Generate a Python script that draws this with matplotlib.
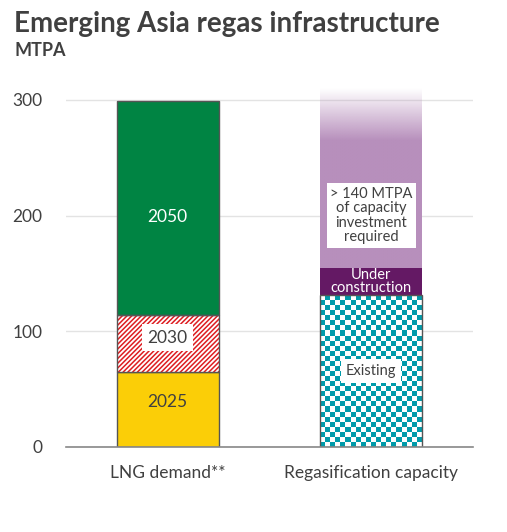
import numpy as np
import matplotlib
matplotlib.use("Agg")
import matplotlib.pyplot as plt
from matplotlib.colors import ListedColormap, to_rgb

# data (MTPA)
categories = ["LNG demand**", "Regasification capacity"]
demand_labels = ["2025", "2030", "2050"]
demand_values = [65, 49, 185]          # stacked increments -> 65, 114, 299
capacity_labels = ["Existing", "Under\nconstruction",
                   "> 140 MTPA\nof capacity\ninvestment\nrequired"]
capacity_values = [131, 24, 155]       # stacked increments -> 131, 155, 310
y_ticks = [0, 100, 200, 300]

# style
TXT = "#404040"
GREEN = "#008443"
YELLOW = "#FBCE07"
RED = "#DD1D21"
TEAL = "#009BAA"
DPURPLE = "#641964"
LPURPLE = "#B78FBC"
EDGE = "#555555"

plt.rcParams["font.family"] = ["Lato", "DejaVu Sans"]
plt.rcParams["hatch.linewidth"] = 1.1

fig = plt.figure(figsize=(5.07, 5.32), dpi=100)
ax = fig.add_axes([0.130, 0.160, 0.803, 0.685])
ax.set_xlim(-0.5, 1.5)
ax.set_ylim(0, 315)

x_dem, x_cap = 0, 1
w = 0.5

# LNG demand stack
bottoms = np.cumsum([0] + demand_values[:-1])
b25 = ax.bar(x_dem, demand_values[0], w, bottom=bottoms[0], color=YELLOW,
             edgecolor=EDGE, linewidth=1, zorder=3)
# hatch drawn in red, then a grey outline on top
ax.bar(x_dem, demand_values[1], w, bottom=bottoms[1], facecolor="white",
       edgecolor=RED, hatch="///////", linewidth=0, zorder=3)
ax.bar(x_dem, demand_values[1], w, bottom=bottoms[1], facecolor="none",
       edgecolor=EDGE, linewidth=1, zorder=4)
b50 = ax.bar(x_dem, demand_values[2], w, bottom=bottoms[2], color=GREEN,
             edgecolor=EDGE, linewidth=1, zorder=3)

ax.text(x_dem, bottoms[0] + demand_values[0] * 0.6, demand_labels[0],
        ha="center", va="center", fontsize=12.5, color=TXT, zorder=5)
ax.text(x_dem, bottoms[1] + demand_values[1] * 0.6, demand_labels[1],
        ha="center", va="center", fontsize=12.5, color=TXT, zorder=5,
        bbox=dict(facecolor="white", edgecolor="none", pad=4))
ax.text(x_dem, bottoms[2] + demand_values[2] * 0.46, demand_labels[2],
        ha="center", va="center", fontsize=12.5, color="white", zorder=5)

# Regasification capacity stack
cb = np.cumsum([0] + capacity_values[:-1])
ex = ax.bar(x_cap, capacity_values[0], w, bottom=cb[0], facecolor="none",
            edgecolor=EDGE, linewidth=1, zorder=4)
uc = ax.bar(x_cap, capacity_values[1], w, bottom=cb[1], color=DPURPLE,
            edgecolor="none", zorder=3)
rq = ax.bar(x_cap, capacity_values[2], w, bottom=cb[2], facecolor="none",
            edgecolor="none", zorder=3)

# checkerboard fill for existing
p = ex[0]
x0, y0 = p.get_x(), p.get_y()
x1, y1 = x0 + p.get_width(), y0 + p.get_height()
ncol, nrow = 20, 30
checker = (np.add.outer(np.arange(nrow), np.arange(ncol)) % 2)
ax.imshow(checker, cmap=ListedColormap(["white", TEAL]), extent=(x0, x1, y0, y1),
          aspect="auto", interpolation="nearest", zorder=3,
          clip_path=p, clip_on=True)

# fading purple for required investment
p = rq[0]
x0, y0 = p.get_x(), p.get_y()
x1, y1 = x0 + p.get_width(), y0 + p.get_height()
n = 300
yy = np.linspace(y0, y1, n)
fade_start = 265
alpha = np.clip((y1 - yy) / (y1 - fade_start), 0, 1)
rgba = np.zeros((n, 2, 4))
rgba[..., :3] = to_rgb(LPURPLE)
rgba[..., 3] = alpha[:, None]
ax.imshow(rgba, extent=(x0, x1, y0, y1), origin="lower", aspect="auto",
          interpolation="bilinear", zorder=3)

ax.text(x_cap, cb[0] + capacity_values[0] * 0.5, capacity_labels[0],
        ha="center", va="center", fontsize=10.5, color=TXT, zorder=5,
        bbox=dict(facecolor="white", edgecolor="none", pad=3.5))
ax.text(x_cap, cb[1] + capacity_values[1] * 0.5, capacity_labels[1],
        ha="center", va="center", fontsize=10.5, color="white", zorder=5,
        linespacing=0.9)
ax.text(x_cap, 200, capacity_labels[2],
        ha="center", va="center", fontsize=10.5, color=TXT, zorder=5,
        linespacing=1.05, bbox=dict(facecolor="white", edgecolor="none", pad=2.5))

# axes styling
for s in ["top", "right", "left"]:
    ax.spines[s].set_visible(False)
ax.spines["bottom"].set_color("#888888")
ax.spines["bottom"].set_linewidth(1.2)
ax.spines["bottom"].set_zorder(6)
ax.set_yticks(y_ticks)
ax.set_yticklabels([str(t) for t in y_ticks])
ax.yaxis.grid(True, color="#e3e3e3", linewidth=1, zorder=0)
ax.set_axisbelow(True)
ax.tick_params(axis="y", length=0, pad=17, labelsize=12.5, labelcolor=TXT)
ax.set_xticks([x_dem, x_cap])
ax.set_xticklabels(categories)
ax.tick_params(axis="x", length=0, pad=13, labelsize=12.5, labelcolor=TXT)

fig.text(0.028, 0.955, "Emerging Asia regas infrastructure", fontsize=20,
         fontweight="bold", color=TXT, ha="left", va="center")
fig.text(0.028, 0.906, "MTPA", fontsize=13, fontweight="bold", color=TXT,
         ha="left", va="center")

fig.savefig("out.png", dpi=100)
